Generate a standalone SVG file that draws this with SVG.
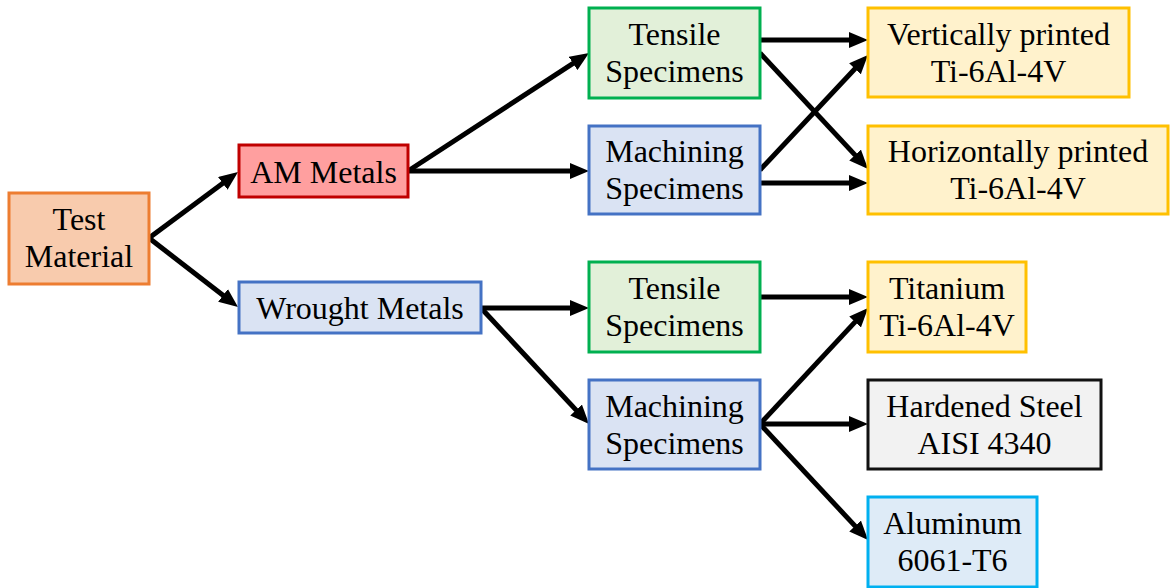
<svg xmlns="http://www.w3.org/2000/svg" width="1170" height="588" viewBox="0 0 1170 588">
<style>
text{font-family:"Liberation Serif","DejaVu Serif",serif;font-size:32px;fill:#000;text-anchor:middle}
rect{stroke-width:3}
.c{stroke:#000;stroke-width:5;fill:none;marker-end:url(#ah)}
.org{fill:#F8CBAD;stroke:#ED7D31}
.red{fill:#FF9F9F;stroke:#C00000}
.blu{fill:#DAE3F3;stroke:#4472C4}
.grn{fill:#E2F0D9;stroke:#00B050}
.yel{fill:#FFF2CC;stroke:#FFC000}
.gry{fill:#F2F2F2;stroke:#111}
.cyn{fill:#DEEBF7;stroke:#00B0F0}
</style>
<defs>
<marker id="ah" markerUnits="userSpaceOnUse" markerWidth="19" markerHeight="16" refX="11" refY="8" orient="auto">
<path d="M0,0 L19,8 L0,16 z" fill="#000"/>
</marker>
</defs>
<g id="connectors">
<path class="c" d="M149,238 L231.6,176.8"/>
<path class="c" d="M149,238 L231.7,302.1"/>
<path class="c" d="M408,171 L582.3,57.4"/>
<path class="c" d="M408,171 L581,171"/>
<path class="c" d="M481,308 L581,308"/>
<path class="c" d="M481,308 L583.6,418.1"/>
<path class="c" d="M760,40 L860,40"/>
<path class="c" d="M760,53 L862.6,163.1"/>
<path class="c" d="M760,170 L862.5,60.8"/>
<path class="c" d="M760,183 L860,183"/>
<path class="c" d="M760,297 L860,297"/>
<path class="c" d="M760,424 L862.6,313.9"/>
<path class="c" d="M760,424 L860,424"/>
<path class="c" d="M760,424 L862.6,534.1"/>
</g>
<g id="test-material"><rect class="org" x="9" y="193" width="140" height="91"/><text x="79" y="230">Test</text><text x="79" y="267">Material</text></g>
<g id="am-metals"><rect class="red" x="239" y="145" width="169" height="52"/><text x="323.5" y="183">AM Metals</text></g>
<g id="wrought-metals"><rect class="blu" x="239" y="282" width="242" height="51"/><text x="360" y="319">Wrought Metals</text></g>
<g id="tensile-am"><rect class="grn" x="589" y="8" width="171" height="90"/><text x="674.5" y="45">Tensile</text><text x="674.5" y="82">Specimens</text></g>
<g id="machining-am"><rect class="blu" x="589" y="126" width="171" height="88"/><text x="674.5" y="162">Machining</text><text x="674.5" y="199">Specimens</text></g>
<g id="vertical"><rect class="yel" x="868" y="8" width="261" height="89"/><text x="998.5" y="45">Vertically printed</text><text x="998.5" y="82">Ti-6Al-4V</text></g>
<g id="horizontal"><rect class="yel" x="868" y="126" width="300" height="88"/><text x="1018" y="162">Horizontally printed</text><text x="1018" y="199">Ti-6Al-4V</text></g>
<g id="tensile-wr"><rect class="grn" x="589" y="262" width="171" height="90"/><text x="674.5" y="299">Tensile</text><text x="674.5" y="336">Specimens</text></g>
<g id="machining-wr"><rect class="blu" x="589" y="380" width="171" height="89"/><text x="674.5" y="417">Machining</text><text x="674.5" y="454">Specimens</text></g>
<g id="titanium"><rect class="yel" x="868" y="262" width="158" height="90"/><text x="947" y="299">Titanium</text><text x="947" y="336">Ti-6Al-4V</text></g>
<g id="steel"><rect class="gry" x="868" y="380" width="233" height="89"/><text x="984.5" y="417">Hardened Steel</text><text x="984.5" y="454">AISI 4340</text></g>
<g id="aluminum"><rect class="cyn" x="868" y="497" width="169" height="90"/><text x="952.5" y="534">Aluminum</text><text x="952.5" y="571">6061-T6</text></g>
</svg>
